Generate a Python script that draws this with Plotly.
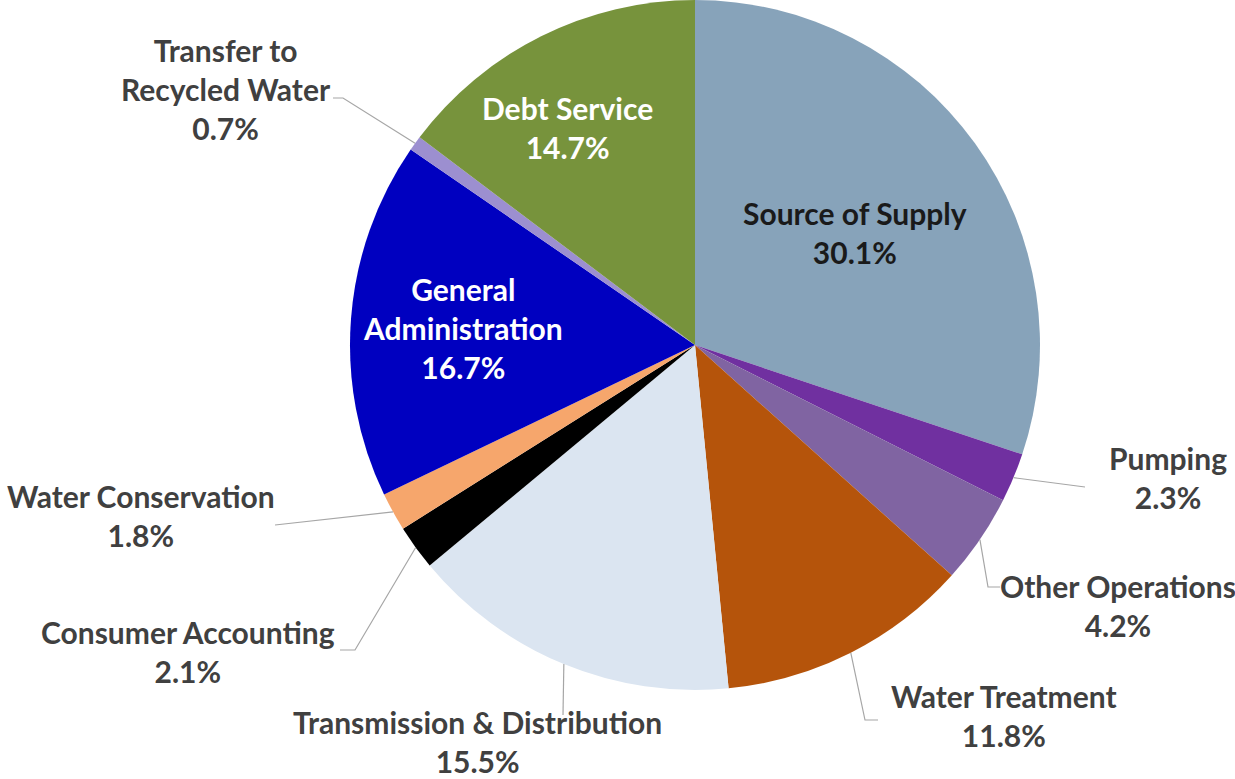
import math
import plotly.graph_objects as go

# Budget allocation by category (percent of total)
categories = [
    "Source of Supply", "Pumping", "Other Operations", "Water Treatment",
    "Transmission & Distribution", "Consumer Accounting", "Water Conservation",
    "General Administration", "Transfer to Recycled Water", "Debt Service",
]
shares = [30.1, 2.3, 4.2, 11.8, 15.5, 2.1, 1.8, 16.7, 0.7, 14.7]
label_text = [
    "Source of Supply", "Pumping", "Other Operations", "Water Treatment",
    "Transmission & Distribution", "Consumer Accounting", "Water Conservation",
    "General<br>Administration", "Transfer to<br>Recycled Water", "Debt Service",
]

colors = ["#87A3BA", "#7030A0", "#8064A2", "#B5540B", "#DBE5F1",
          "#000000", "#F6A66C", "#0000C0", "#9C8FD0", "#77933C"]

W, H = 1235, 779
CX, CY, R = 695, 345, 345  # pie centre and radius in pixels

# Label placement (pixel centres) and leader-line elbows/ends
inside = {
    "Source of Supply": ((855, 232), "#1A1A1A"),
    "General Administration": ((463, 328), "#FFFFFF"),
    "Debt Service": ((567, 128), "#FFFFFF"),
}
outside = {
    "Pumping": ((1168, 477), [(1085, 487)]),
    "Other Operations": ((1118, 605), [(988, 587), (1000, 587)]),
    "Water Treatment": ((1004, 715), [(865, 720), (878, 720)]),
    "Transmission & Distribution": ((477, 741), [(563, 715)]),
    "Consumer Accounting": ((188, 651), [(355, 650), (340, 650)]),
    "Water Conservation": ((141, 515), [(275, 525)]),
    "Transfer to Recycled Water": ((226, 89), [(343, 98), (333, 98)]),
}

FONT = "Lato"
FS = 30


def px(x):
    return x / W


def py(y):
    return 1 - y / H


fig = go.Figure(go.Pie(
    labels=categories,
    values=shares,
    sort=False,
    direction="clockwise",
    rotation=0,
    marker=dict(colors=colors, line=dict(width=0)),
    textinfo="none",
    hoverinfo="label+percent",
    domain=dict(x=[px(CX - R), px(CX + R)], y=[py(CY + R), py(CY - R)]),
    showlegend=False,
))

total = sum(shares)
annotations = []
shapes = []
cum = 0.0
for name, txt, val in zip(categories, label_text, shares):
    mid = (cum + val / 2) / total * 2 * math.pi
    cum += val
    edge = (CX + R * math.sin(mid), CY - R * math.cos(mid))
    body = f"{txt}<br>{val:.1f}%"
    if name in inside:
        (lx, ly), col = inside[name]
    else:
        (lx, ly), pts = outside[name]
        col = "#404040"
        path = f"M {px(edge[0])},{py(edge[1])}"
        for (qx, qy) in pts:
            path += f" L {px(qx)},{py(qy)}"
        shapes.append(dict(type="path", xref="paper", yref="paper", path=path,
                           line=dict(color="#A6A6A6", width=1.2)))
    annotations.append(dict(
        x=px(lx), y=py(ly), xref="paper", yref="paper",
        text=body, showarrow=False, align="center",
        xanchor="center", yanchor="middle",
        font=dict(family=FONT, size=FS, color=col, weight="bold"),
    ))

fig.update_layout(
    width=W, height=H,
    margin=dict(l=0, r=0, t=0, b=0),
    paper_bgcolor="white",
    plot_bgcolor="white",
    annotations=annotations,
    shapes=shapes,
)

fig.write_html("out.html")
